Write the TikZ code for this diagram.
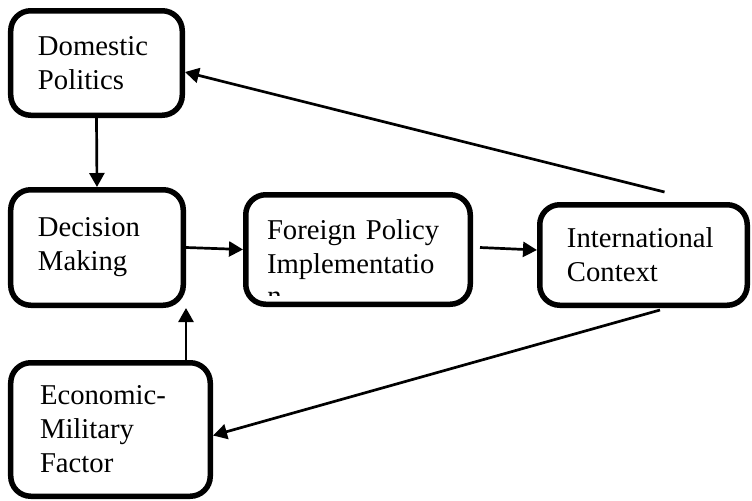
\documentclass[tikz,border=0pt]{standalone}
\usepackage{fontspec}
\setmainfont{Liberation Serif}
\usetikzlibrary{calc,arrows.meta}
\tikzset{
  factor/.style={draw, line width=2.75pt, rounded corners=10pt, align=left,
    inner sep=0pt, font=\fontsize{14.35}{17}\selectfont},
  link/.style={line width=1.35pt, -{Triangle[length=7pt,width=7.5pt]}}
}
\newcommand{\factorbox}[6]{\node[factor, minimum width=#3, minimum height=#4, text width=#5] (#1) at #2 {#6};}

\begin{document}
\begin{tikzpicture}[x=0.5pt,y=-0.5pt]
        \useasboundingbox (0,0) rectangle (752,500);
        \factorbox{dom}{(96.5,63)}{85.75pt}{52.25pt}{58.5pt}{Domestic\\Politics}
        \factorbox{dec}{(97,247.5)}{86.25pt}{57.75pt}{59pt}{Decision\\Making}
        \factorbox{fp}{(358,249.5)}{112.25pt}{54.75pt}{91pt}{Foreign Policy\\Implementatio}
        \factorbox{ic}{(643.5,255)}{103.75pt}{50.25pt}{76.5pt}{International\\Context}
        \factorbox{eco}{(110.5,429.5)}{99.75pt}{66.75pt}{70.5pt}{Economic-\\Military\\Factor}
        % the wrapped letter is cut off by the box
        \begin{scope}
          \clip (250,280) rectangle (460,295);
          \node[font=\fontsize{14.35}{17}\selectfont, inner sep=0pt, anchor=base west] (fpn) at (267,305) {n};
        \end{scope}
        \draw[link] (dom.south) -- (dec.north);
        \draw[link] (dec.east) -- (fp.west);
        \draw[link] ($(fp.east)+(7,-2)$) -- ($(ic.west)+(0,-5)$);
        \draw[link] ($(ic.north)+(21,-10)$) -- ($(dom.east)+(0,9)$);
        \draw[link] ($(ic.south)+(16.5,2)$) -- ($(eco.east)+(0,6)$);
        \draw[link] (eco.north -| dec.south east) -- (dec.south east);
\end{tikzpicture}
\end{document}
